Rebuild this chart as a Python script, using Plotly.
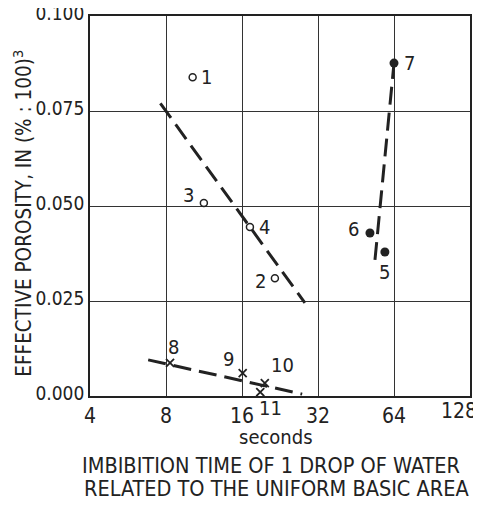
import math
import plotly.graph_objects as go

# Open circles (points 1-4)
open_x = [10.2, 21.6, 11.3, 17.2]
open_y = [0.0839, 0.0310, 0.0508, 0.0445]
open_lbl = ["1", "2", "3", "4"]

# Filled circles (points 5-7)
fill_x = [58.9, 51.4, 64.0]
fill_y = [0.0379, 0.0429, 0.0876]
fill_lbl = ["5", "6", "7"]

# Crosses (points 8-11)
cross_x = [8.3, 16.1, 19.7, 18.9]
cross_y = [0.0087, 0.0060, 0.0034, 0.0010]
cross_lbl = ["8", "9", "10", "11"]

# Fitted dashed lines (endpoints)
line1_x = [7.6, 28.4]
line1_y = [0.077, 0.0245]
line2_x = [53.8, 64.0]
line2_y = [0.0358, 0.0876]
line3_x = [6.8, 27.7]
line3_y = [0.0095, 0.0005]

x_ticks = [4, 8, 16, 32, 64]
x_last_tick = [128]
y_ticks = [0.0, 0.025, 0.05, 0.075, 0.1]
y_tick_text = ["0.000", "0.025", "0.050", "0.075", "0.100"]

FONT = "DejaVu Sans Condensed, Liberation Sans Narrow, sans-serif"
INK = "#222222"
XRANGE = [math.log10(4), math.log10(128)]

fig = go.Figure()
for lx, ly in [(line1_x, line1_y), (line2_x, line2_y), (line3_x, line3_y)]:
    fig.add_trace(go.Scatter(x=lx, y=ly, mode="lines",
                             line=dict(color=INK, width=3, dash="18px,8px"),
                             showlegend=False, hoverinfo="skip"))

fig.add_trace(go.Scatter(x=open_x, y=open_y, mode="markers",
                         marker=dict(symbol="circle-open", size=7, color=INK, line=dict(width=1.5)),
                         showlegend=False))
fig.add_trace(go.Scatter(x=fill_x, y=fill_y, mode="markers",
                         marker=dict(symbol="circle", size=9, color=INK),
                         showlegend=False))
fig.add_trace(go.Scatter(x=cross_x, y=cross_y, mode="markers",
                         marker=dict(symbol="x-thin-open", size=8, color=INK, line=dict(width=1.8, color=INK)),
                         showlegend=False))
# invisible trace so the overlay axis carrying the last tick label is drawn
fig.add_trace(go.Scatter(x=x_last_tick, y=[y_ticks[0]], xaxis="x2", mode="markers",
                         marker=dict(opacity=0), showlegend=False, hoverinfo="skip"))

# point labels: offsets (dx, dy) in pixels (dy positive = down)
offsets = {
    "1": (14, 0), "2": (-14, 3), "3": (-15, -8), "4": (15, 0),
    "5": (0, 20), "6": (-16, -4), "7": (15, 0),
    "8": (3, -16), "9": (-14, -14), "10": (18, -18), "11": (10, 16),
}
for xs, ys, ls in [(open_x, open_y, open_lbl), (fill_x, fill_y, fill_lbl), (cross_x, cross_y, cross_lbl)]:
    for x, y, l in zip(xs, ys, ls):
        dx, dy = offsets[l]
        fig.add_annotation(x=math.log10(x), y=y, text=l, showarrow=False,
                           xshift=dx, yshift=-dy,
                           font=dict(family=FONT, size=20, color=INK))

fig.update_layout(
    xaxis=dict(type="log", range=XRANGE,
               tickvals=x_ticks + x_last_tick,
               ticktext=[str(v) for v in x_ticks] + [""],
               showgrid=True, gridcolor="#333", gridwidth=1.3,
               showline=True, linecolor="#222", linewidth=1.8, mirror=True,
               ticks="", zeroline=False, automargin=False,
               ticklabeloverflow="allow",
               tickfont=dict(family=FONT, size=21, color=INK)),
    xaxis2=dict(type="log", range=XRANGE, overlaying="x", anchor="y", side="bottom",
                tickvals=x_last_tick, ticktext=[str(v) for v in x_last_tick],
                ticklabelshift=-11, ticklabeloverflow="allow",
                showgrid=False, showline=False, ticks="", zeroline=False, automargin=False,
                tickfont=dict(family=FONT, size=21, color=INK)),
    yaxis=dict(range=[0, 0.1], tickvals=y_ticks, ticktext=y_tick_text,
               showgrid=True, gridcolor="#333", gridwidth=1.3,
               showline=True, linecolor="#222", linewidth=1.8, mirror=True,
               ticks="", zeroline=False, automargin=False,
               ticklabeloverflow="allow", ticklabelshift=-3,
               tickfont=dict(family=FONT, size=19, color=INK)),
)

fig.add_annotation(xref="paper", yref="paper", x=0.49, y=-0.108,
                   xanchor="center", yanchor="middle",
                   text="seconds",
                   showarrow=False, font=dict(family=FONT, size=20, color=INK))
fig.add_annotation(xref="paper", yref="paper", x=0.476, y=-0.182,
                   xanchor="center", yanchor="middle",
                   text="IMBIBITION TIME OF 1 DROP OF WATER",
                   showarrow=False, font=dict(family=FONT, size=21.5, color=INK))
fig.add_annotation(xref="paper", yref="paper", x=0.49, y=-0.243,
                   xanchor="center", yanchor="middle",
                   text="RELATED TO THE UNIFORM BASIC AREA",
                   showarrow=False, font=dict(family=FONT, size=21.5, color=INK))
fig.add_annotation(xref="paper", yref="paper", x=-0.176, y=0.48,
                   xanchor="center", yanchor="middle",
                   text="EFFECTIVE POROSITY, IN (% : 100)<sup>3</sup>", textangle=-90,
                   showarrow=False, font=dict(family=FONT, size=20.5, color=INK))

# the page body adds an 8 px offset, so the figure is sized to land the plot
# area at the reference's pixel position inside the 481x506 window
fig.update_layout(width=473, height=490,
                  margin=dict(l=82, r=11, t=8, b=102),
                  paper_bgcolor="white", plot_bgcolor="white",
                  font=dict(family=FONT, color=INK))

fig.write_html("out.html")
